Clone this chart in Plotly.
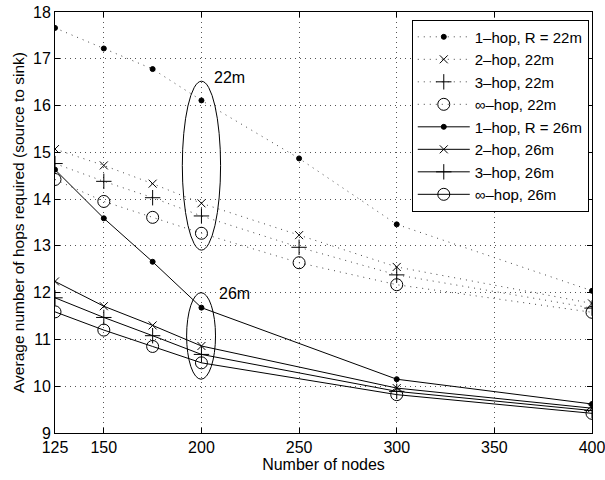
import plotly.graph_objects as go

nodes = [125, 150, 175, 200, 250, 300, 400]

hop1_22 = [17.66, 17.22, 16.78, 16.11, 14.87, 13.46, 12.04]
hop2_22 = [15.07, 14.72, 14.33, 13.91, 13.23, 12.55, 11.77]
hop3_22 = [14.76, 14.38, 14.03, 13.64, 12.97, 12.38, 11.67]
hopinf_22 = [14.42, 13.95, 13.61, 13.27, 12.64, 12.17, 11.58]

hop1_26 = [14.63, 13.59, 12.66, 11.68, None, 10.15, 9.62]
hop2_26 = [12.24, 11.71, 11.30, 10.86, None, 9.96, 9.53]
hop3_26 = [11.89, 11.47, 11.08, 10.68, None, 9.89, 9.48]
hopinf_26 = [11.59, 11.20, 10.85, 10.50, None, 9.82, 9.42]

labels = ["1–hop, R = 22m", "2–hop, 22m", "3–hop, 22m", "∞–hop, 22m",
          "1–hop, R = 26m", "2–hop, 26m", "3–hop, 26m", "∞–hop, 26m"]

xticks = [125, 150, 200, 250, 300, 350, 400]
yticks = [9, 10, 11, 12, 13, 14, 15, 16, 17, 18]

series = [hop1_22, hop2_22, hop3_22, hopinf_22, hop1_26, hop2_26, hop3_26, hopinf_26]
symbols = ["circle", "x-thin-open", "cross-thin-open", "circle-open"] * 2
sizes = [5, 8, 11, 12] * 2

fig = go.Figure()
for i, (ys, name) in enumerate(zip(series, labels)):
    dotted = i < 4
    xs = [x for x, y in zip(nodes, ys) if y is not None]
    yv = [y for y in ys if y is not None]
    fig.add_trace(go.Scatter(
        x=xs, y=yv, name=name, mode="lines+markers",
        line=dict(color="#444444" if dotted else "black", width=1,
                  dash="1px,5px" if dotted else "solid"),
        marker=dict(symbol=symbols[i], size=sizes[i], color="black",
                    line=dict(color="black", width=1)),
    ))

# ellipses around the 200-node groups
fig.add_shape(type="circle", xref="x", yref="y", x0=190.2, x1=209.8, y0=12.91, y1=16.52,
              line=dict(color="black", width=1))
fig.add_shape(type="circle", xref="x", yref="y", x0=192.4, x1=207.2, y0=10.15, y1=12.0,
              line=dict(color="black", width=1))
fig.add_annotation(x=214.5, y=16.59, text="22m", showarrow=False,
                   font=dict(size=16, color="black"))
fig.add_annotation(x=217, y=11.99, text="26m", showarrow=False,
                   font=dict(size=16, color="black"))

axis_common = dict(showline=True, linecolor="black", linewidth=1, mirror="ticks",
                   ticks="inside", ticklen=5, tickcolor="black", automargin=False,
                   ticklabeloverflow="allow",
                   showgrid=True, gridcolor="#555555", griddash="1px,4px", gridwidth=1,
                   zeroline=False, tickfont=dict(size=16, color="black"))

fig.update_xaxes(range=[125, 400], tickvals=xticks, title=dict(text="Number of nodes",
                 font=dict(size=16, color="black"), standoff=2), **axis_common)
fig.update_yaxes(range=[9, 18], tickvals=yticks,
                 title=dict(text="Average number of hops required (source to sink)",
                            font=dict(size=15.5, color="black"), standoff=4), **axis_common)

fig.update_layout(
    width=605, height=480,
    margin=dict(l=55, r=13, t=11.5, b=47),
    paper_bgcolor="white", plot_bgcolor="white",
    font=dict(family="Liberation Sans, Arial, sans-serif", color="black"),
    legend=dict(x=0.994, y=0.982, xanchor="right", yanchor="top",
                bgcolor="white", bordercolor="black", borderwidth=1,
                font=dict(size=15, color="black"), tracegroupgap=0,
                itemwidth=52),
)

# remove the browser's default 8px body margin so the figure fills the window
fig.write_html("out.html", config={"displayModeBar": False},
               post_script="document.body.style.margin='0';")
